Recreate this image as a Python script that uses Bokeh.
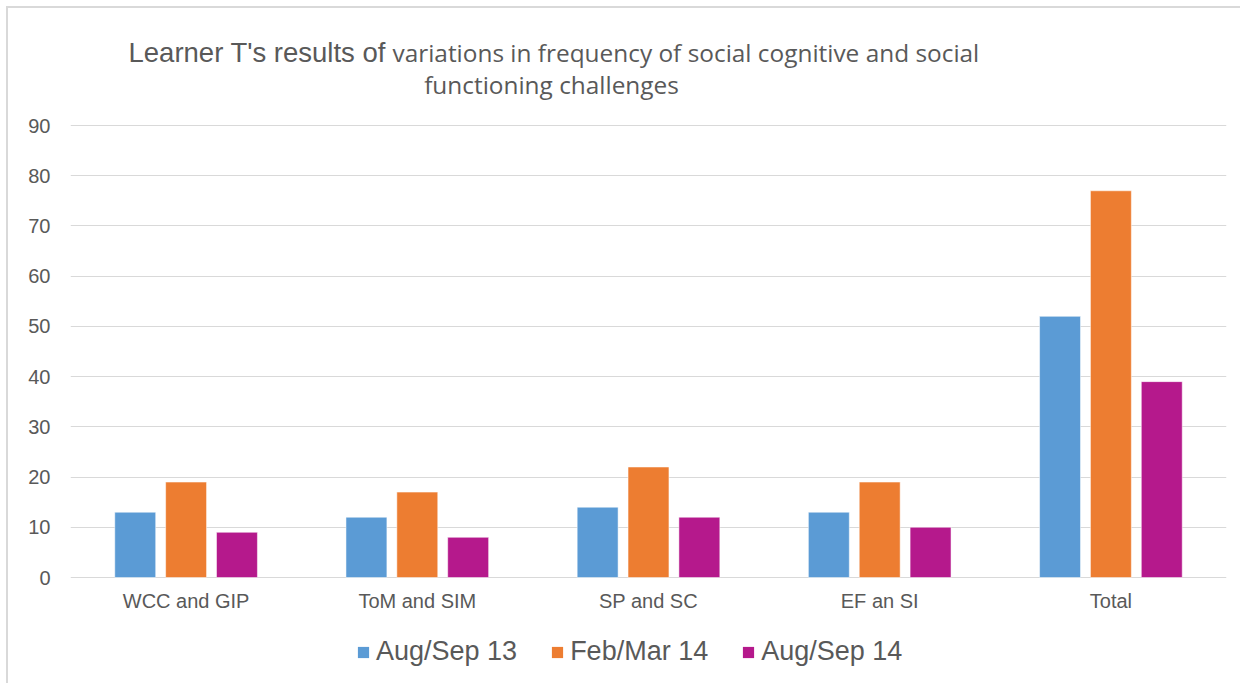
from bokeh.plotting import figure
from bokeh.layouts import column
from bokeh.models import (ColumnDataSource, Range1d, Legend, LegendItem, Label,
                          FixedTicker)
from bokeh.transform import dodge
from bokeh.embed import file_html
from bokeh.resources import INLINE

categories = ["WCC and GIP", "ToM and SIM", "SP and SC", "EF an SI", "Total"]
series_names = ["Aug/Sep 13", "Feb/Mar 14", "Aug/Sep 14"]
aug_sep_13 = [13, 12, 14, 13, 52]
feb_mar_14 = [19, 17, 22, 19, 77]
aug_sep_14 = [9, 8, 12, 10, 39]
y_ticks = [0, 10, 20, 30, 40, 50, 60, 70, 80, 90]

colors = ["#5B9BD5", "#ED7D31", "#B5198C"]
text_color = "#595959"
grid_color = "#D9D9D9"
keys = ["s1", "s2", "s3"]
offsets = [-0.22, 0.0, 0.22]

# vertical scale: 90 units span 452 px; frame extended above for the title
PX = 452 / 90
FRAME_H = 554
y_start = -2 / PX
y_end = y_start + FRAME_H / PX

source = ColumnDataSource(dict(cat=categories, s1=aug_sep_13, s2=feb_mar_14, s3=aug_sep_14))

p = figure(x_range=categories, y_range=Range1d(y_start, y_end),
           frame_width=1156, frame_height=FRAME_H,
           min_border_left=62, min_border_right=14, min_border_top=17, min_border_bottom=40,
           output_backend="svg", toolbar_location=None, tools="")

for key, off, col in zip(keys, offsets, colors):
    p.vbar(x=dodge("cat", off, range=p.x_range), top=key, width=0.177, bottom=0,
           source=source, fill_color=col, line_color="white", line_alpha=0.5, line_width=1)

p.outline_line_color = None
p.xgrid.grid_line_color = None
p.ygrid.grid_line_color = grid_color
p.ygrid.grid_line_width = 1
p.ygrid.ticker = FixedTicker(ticks=y_ticks)
p.yaxis.ticker = FixedTicker(ticks=y_ticks)

for ax in (p.xaxis, p.yaxis):
    ax.axis_line_color = None
    ax.major_tick_line_color = None
    ax.minor_tick_line_color = None
    ax.major_tick_out = 0
    ax.major_tick_in = 0
    ax.major_label_text_color = text_color
    ax.major_label_text_font = "Liberation Sans"

p.yaxis.major_label_text_font_size = "20px"
p.yaxis.major_label_standoff = 20
p.xaxis.major_label_text_font_size = "20px"
p.xaxis.major_label_standoff = 10

t1 = Label(x=58, y=527, x_units="screen", y_units="screen", text="Learner T's results of",
           text_font="Liberation Sans", text_font_size="27.5px", text_color=text_color,
           text_baseline="alphabetic", text_align="left")
t2 = Label(x=322, y=527, x_units="screen", y_units="screen",
           text="variations in frequency of social cognitive and social",
           text_font="Open Sans", text_font_size="24.4px", text_color=text_color,
           text_baseline="alphabetic", text_align="left")
t3 = Label(x=481, y=495, x_units="screen", y_units="screen", text="functioning challenges",
           text_font="Open Sans", text_font_size="24.4px", text_color=text_color,
           text_baseline="alphabetic", text_align="center")
for t in (t1, t2, t3):
    p.add_layout(t)

# legend strip below the chart (series glyphs kept out of view; only legend swatches show)
p2 = figure(x_range=categories, y_range=Range1d(1000, 1001),
            width=1232, height=64, min_border=0,
            x_axis_location=None, y_axis_location=None,
            output_backend="svg", toolbar_location=None, tools="")
p2.outline_line_color = None
p2.grid.visible = False
leg_renderers = []
for key, off, col in zip(keys, offsets, colors):
    r = p2.vbar(x=dodge("cat", off, range=p2.x_range), top=key, width=0.177, bottom=0,
                source=source, fill_color=col, line_color=None)
    leg_renderers.append(r)

legend = Legend(items=[LegendItem(label=n, renderers=[r]) for n, r in zip(series_names, leg_renderers)],
                orientation="horizontal", location=(286, 16),
                padding=0, margin=0, spacing=33, label_standoff=6,
                glyph_width=14, glyph_height=14,
                label_text_font="Liberation Sans", label_text_font_size="27px",
                label_text_color=text_color,
                border_line_color=None, background_fill_alpha=0)
p2.add_layout(legend)

layout = column(p, p2, spacing=0)
layout.styles = {"border-top": "2px solid #D9D9D9", "border-left": "2px solid #D9D9D9",
                 "margin-top": "6px", "margin-left": "6px"}

open("out.html", "w").write(file_html(layout, INLINE))
